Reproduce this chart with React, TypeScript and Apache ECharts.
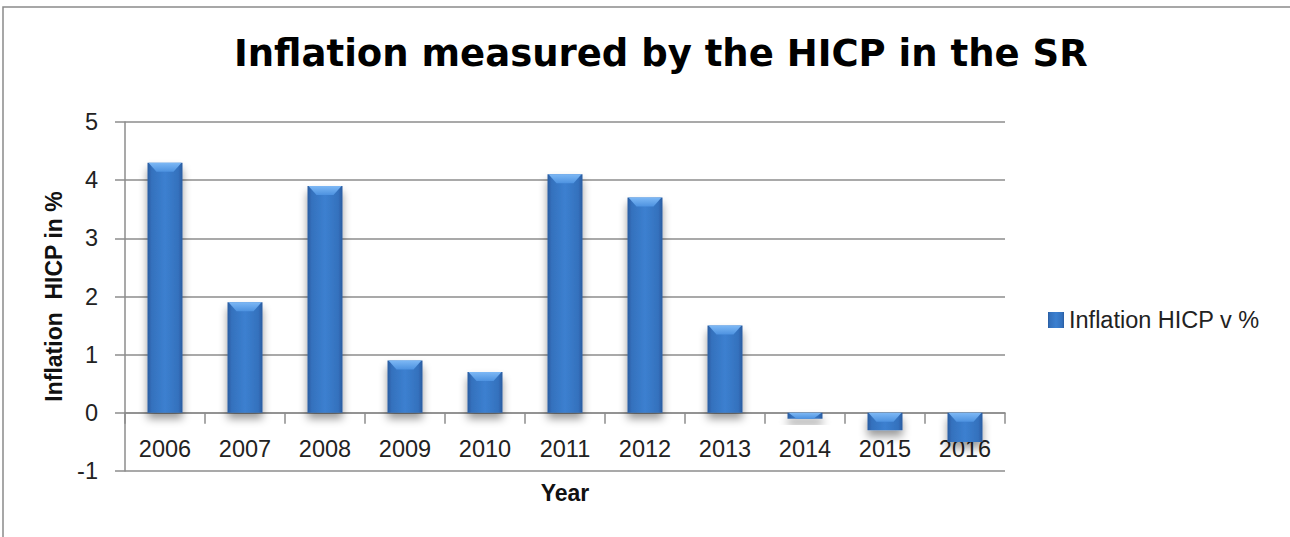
import React, { useEffect, useRef } from "react";
import * as echarts from "echarts";

const categories = ["2006", "2007", "2008", "2009", "2010", "2011", "2012", "2013", "2014", "2015", "2016"];
const inflationValues = [4.3, 1.9, 3.9, 0.9, 0.7, 4.1, 3.7, 1.5, -0.1, -0.3, -0.5];
const seriesName = "Inflation HICP v %";
const titleText = "Inflation measured by the HICP in the SR";
const yAxisTitle = "Inflation  HICP in %";
const xAxisTitle = "Year";

export default function App() {
  const ref = useRef<HTMLDivElement>(null);
  useEffect(() => {
    document.body.style.margin = "0";
    if (!ref.current) return;
    const chart = echarts.init(ref.current, null, { renderer: "svg" });
    const labelFont = "'Liberation Sans', Arial, sans-serif";
    const barGradient = new echarts.graphic.LinearGradient(0, 0, 1, 0, [
      { offset: 0, color: "#2a5c9f" },
      { offset: 0.12, color: "#3471bd" },
      { offset: 0.5, color: "#3c80d0" },
      { offset: 0.88, color: "#3471bd" },
      { offset: 1, color: "#2a5c9f" },
    ]);
    chart.setOption({
      animation: false,
      backgroundColor: "#ffffff",
      title: {
        text: titleText,
        left: 234,
        top: 35,
        padding: 0,
        textStyle: {
          fontFamily: "'DejaVu Sans', Verdana, sans-serif",
          fontWeight: "bold",
          fontSize: 37,
          color: "#000000",
        },
      },
      graphic: [
        {
          type: "polyline",
          shape: { points: [[3, 537], [3, 7], [1290, 7]] },
          style: { stroke: "#8a8a8a", lineWidth: 1.5, fill: null },
          silent: true,
        },
      ],
      legend: {
        data: [seriesName],
        left: 1043,
        top: 303,
        itemWidth: 16,
        itemHeight: 16,
        itemGap: 8,
        icon: "rect",
        textStyle: { fontFamily: labelFont, fontSize: 23.5, color: "#222222" },
      },
      grid: { left: 125, right: 285, top: 122, bottom: 66, containLabel: false, outerBoundsMode: "none" },
      xAxis: {
        type: "category",
        data: categories,
        name: xAxisTitle,
        nameLocation: "middle",
        nameGap: 10,
        nameTextStyle: { fontFamily: labelFont, fontWeight: "bold", fontSize: 23, color: "#111111", verticalAlign: "top" },
        axisLine: { onZero: true, lineStyle: { color: "#8c8c8c", width: 1.5 } },
        axisTick: { show: true, length: 11, alignWithLabel: false, lineStyle: { color: "#8c8c8c", width: 1.5 } },
        axisLabel: { margin: -34, fontFamily: labelFont, fontSize: 23.5, color: "#222222" },
        splitLine: { show: false },
      },
      yAxis: {
        type: "value",
        min: -1,
        max: 5,
        interval: 1,
        name: yAxisTitle,
        nameLocation: "middle",
        nameGap: 60,
        nameRotate: 90,
        nameTextStyle: { fontFamily: labelFont, fontWeight: "bold", fontSize: 23, color: "#111111" },
        axisLine: { show: true, lineStyle: { color: "#8c8c8c", width: 1.5 } },
        axisTick: { show: true, length: 10, lineStyle: { color: "#8c8c8c", width: 1.5 } },
        axisLabel: { margin: 27, fontFamily: labelFont, fontSize: 23.5, color: "#222222" },
        splitLine: { show: true, lineStyle: { color: "#8c8c8c", width: 1.5 } },
      },
      series: [
        {
          name: seriesName,
          type: "bar",
          data: inflationValues,
          barWidth: 35,
          itemStyle: {
            color: barGradient,
            shadowBlur: 9,
            shadowOffsetY: 6,
            shadowColor: "rgba(0,0,0,0.4)",
          },
          z: 2,
        },
        {
          name: "bevel",
          type: "custom",
          data: inflationValues.map((v, i) => [i, v]),
          z: 3,
          silent: true,
          renderItem: (params: any, api: any) => {
            const v = api.value(1);
            const idx = api.value(0);
            const top = api.coord([idx, Math.max(v, 0)]);
            const bottom = api.coord([idx, Math.min(v, 0)]);
            const w = 35;
            const x0 = top[0] - w / 2;
            const x1 = top[0] + w / 2;
            const y0 = top[1];
            const h = Math.min(9, Math.abs(bottom[1] - top[1]));
            const inset = 9;
            return {
              type: "polygon",
              shape: {
                points: [
                  [x0 + 1, y0],
                  [x1 - 1, y0],
                  [x1 - inset, y0 + h],
                  [x0 + inset, y0 + h],
                ],
              },
              style: {
                fill: new echarts.graphic.LinearGradient(0, 0, 0, 1, [
                  { offset: 0, color: "#7db8f5" },
                  { offset: 1, color: "#4d92e0" },
                ]),
              },
            };
          },
        },
      ],
    });
    return () => chart.dispose();
  }, []);
  return <div ref={ref} style={{ width: 1290, height: 537 }} />;
}
